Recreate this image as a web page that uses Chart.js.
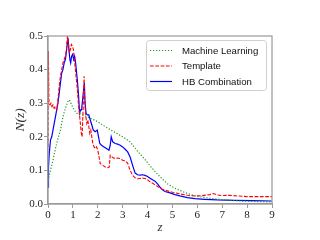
<!DOCTYPE html>
<html>
<head>
<meta charset="utf-8">
<script src="https://cdn.jsdelivr.net/npm/chart.js@4/dist/chart.umd.min.js"></script>
<style>
html,body{margin:0;padding:0;background:#fff;}
#wrap{width:320px;height:240px;}
</style>
</head>
<body>
<div id="wrap"><canvas id="c" width="320" height="240"></canvas></div>
<script>
// ---- data ----
const seriesLabels = ["Machine Learning", "Template", "HB Combination"];

const zML = [0,0.1,0.2,0.3,0.4,0.5,0.6,0.7,0.8,0.86,0.95,1.05,1.15,1.3,1.5,1.7,2.0,2.3,2.6,3.0,3.3,3.6,3.9,4.2,4.5,4.8,5.1,5.4,5.7,6.0,6.5,7.0,7.5,8.0,8.5,9.0];
const nML = [0.07,0.10,0.13,0.165,0.195,0.22,0.26,0.285,0.305,0.31,0.295,0.28,0.27,0.268,0.262,0.255,0.245,0.23,0.217,0.20,0.185,0.157,0.132,0.105,0.081,0.06,0.047,0.037,0.029,0.023,0.017,0.013,0.010,0.008,0.007,0.006];

const zTemp = [0,0.015,0.04,0.08,0.12,0.16,0.2,0.25,0.3,0.35,0.4,0.45,0.5,0.55,0.6,0.65,0.7,0.74,0.78,0.82,0.86,0.9,0.94,0.98,1.02,1.06,1.1,1.14,1.18,1.22,1.26,1.3,1.34,1.37,1.41,1.45,1.48,1.52,1.56,1.6,1.64,1.68,1.72,1.76,1.8,1.85,1.9,1.95,2.0,2.05,2.1,2.2,2.3,2.4,2.46,2.5,2.6,2.7,2.8,2.9,3.0,3.1,3.2,3.3,3.4,3.5,3.6,3.7,3.8,3.9,4.0,4.1,4.2,4.4,4.6,4.8,5.0,5.3,5.6,5.9,6.2,6.5,6.65,6.8,7.0,7.3,7.6,8.0,8.5,9.0];
const nTemp = [0.17,0.455,0.30,0.295,0.30,0.29,0.295,0.285,0.29,0.28,0.31,0.35,0.38,0.40,0.42,0.43,0.44,0.46,0.50,0.48,0.45,0.46,0.475,0.47,0.46,0.43,0.40,0.37,0.34,0.30,0.27,0.24,0.21,0.20,0.28,0.38,0.30,0.26,0.24,0.25,0.23,0.21,0.22,0.20,0.18,0.17,0.165,0.17,0.16,0.14,0.12,0.115,0.11,0.108,0.11,0.145,0.138,0.135,0.137,0.135,0.13,0.128,0.122,0.10,0.085,0.078,0.075,0.076,0.077,0.076,0.072,0.066,0.062,0.052,0.044,0.039,0.035,0.030,0.026,0.024,0.025,0.028,0.031,0.027,0.025,0.026,0.024,0.022,0.022,0.022];

const zHB = [0,0.02,0.05,0.1,0.15,0.2,0.25,0.3,0.35,0.4,0.45,0.5,0.55,0.6,0.65,0.7,0.75,0.8,0.84,0.88,0.91,0.95,0.99,1.03,1.07,1.11,1.15,1.19,1.23,1.27,1.31,1.35,1.39,1.43,1.46,1.49,1.53,1.58,1.64,1.7,1.76,1.82,1.9,1.98,2.03,2.08,2.15,2.25,2.35,2.45,2.5,2.54,2.6,2.7,2.8,2.9,3.0,3.1,3.2,3.3,3.4,3.5,3.6,3.7,3.8,3.9,4.0,4.1,4.2,4.3,4.4,4.5,4.6,4.7,4.9,5.1,5.3,5.6,5.9,6.3,6.8,7.5,8.2,9.0];
const nHB = [0.05,0.11,0.15,0.19,0.20,0.22,0.24,0.26,0.28,0.30,0.33,0.36,0.39,0.40,0.42,0.43,0.46,0.495,0.46,0.43,0.42,0.44,0.445,0.43,0.44,0.42,0.39,0.36,0.32,0.27,0.28,0.28,0.31,0.34,0.36,0.30,0.27,0.265,0.265,0.25,0.235,0.22,0.215,0.22,0.20,0.18,0.175,0.17,0.165,0.16,0.175,0.20,0.185,0.18,0.178,0.175,0.17,0.163,0.155,0.14,0.115,0.092,0.087,0.086,0.087,0.085,0.082,0.077,0.072,0.068,0.060,0.050,0.042,0.037,0.033,0.028,0.024,0.019,0.016,0.014,0.012,0.011,0.010,0.009];

const xTicks = [0,1,2,3,4,5,6,7,8,9];
const yTicks = [0.0,0.1,0.2,0.3,0.4,0.5];

// ---- build ----
function pts(zs, ns){ return zs.map((z,i)=>({x:z, y:ns[i]})); }

const styles = [
  {color:'#1f9a1f', dash:[1.2,1.8], width:1.2},
  {color:'#ff0000', dash:[3.7,1.6], width:1.1},
  {color:'#0000ff', dash:[], width:1.2}
];
const dataSets = [pts(zML,nML), pts(zTemp,nTemp), pts(zHB,nHB)];

const datasets = dataSets.map((d,i)=>({
  label: seriesLabels[i],
  data: d,
  showLine: true,
  borderColor: styles[i].color,
  borderDash: styles[i].dash,
  borderWidth: styles[i].width,
  pointRadius: 0,
  fill: false,
  tension: 0
}));

const spine = '#9a9a9a';
const tickFont = {family:'"Liberation Serif", serif', size:11};

const frame = {
  id:'frame',
  afterDatasetsDraw(chart){
    const {ctx, chartArea:a} = chart;
    ctx.save();
    ctx.strokeStyle = spine; ctx.lineWidth = 1.2;
    ctx.strokeRect(a.left, a.top, a.right-a.left, a.bottom-a.top);
    ctx.restore();
  }
};

const legendBox = {
  id:'legendBox',
  afterDraw(chart){
    const ctx = chart.ctx;
    const x0=146.5, y0=40.5, w=120, h=50, r=3;
    ctx.save();
    ctx.beginPath();
    ctx.roundRect(x0,y0,w,h,r);
    ctx.fillStyle='rgba(255,255,255,0.85)';
    ctx.fill();
    ctx.strokeStyle='#d0d0d0'; ctx.lineWidth=1;
    ctx.stroke();
    ctx.font = '9.6px "Liberation Sans", sans-serif';
    ctx.textBaseline='middle';
    chart.data.datasets.forEach((ds,i)=>{
      const y = 50.5 + i*15.5;
      ctx.beginPath();
      ctx.setLineDash(ds.borderDash);
      ctx.strokeStyle = ds.borderColor; ctx.lineWidth = ds.borderWidth;
      ctx.moveTo(150,y); ctx.lineTo(172,y); ctx.stroke();
      ctx.setLineDash([]);
      ctx.fillStyle='#111';
      ctx.fillText(ds.label, 182, y+0.5);
    });
    ctx.restore();
  }
};

new Chart(document.getElementById('c'), {
  type:'scatter',
  data:{datasets},
  plugins:[frame, legendBox],
  options:{
    responsive:false,
    animation:false,
    events:[],
    layout:{padding:{top:36,right:48,left:0,bottom:0}},
    plugins:{legend:{display:false}, tooltip:{enabled:false}},
    scales:{
      x:{
        type:'linear', min:0, max:9,
        afterBuildTicks(s){ s.ticks = xTicks.map(v=>({value:v})); },
        afterFit(s){ s.height = 36; },
        ticks:{font:tickFont, color:'#222', padding:1, maxRotation:0, callback:v=>String(v)},
        grid:{drawOnChartArea:false, drawTicks:true, tickLength:4, color:spine, lineWidth:1},
        border:{display:true, color:spine, width:1.2},
        title:{display:true, text:'z', color:'#333', font:{family:'"Liberation Serif", serif', size:13, style:'italic'}, padding:{top:0,bottom:5}}
      },
      y:{
        type:'linear', min:0, max:0.5,
        afterBuildTicks(s){ s.ticks = yTicks.map(v=>({value:v})); },
        afterFit(s){ s.width = 48; },
        ticks:{font:tickFont, color:'#222', padding:1, callback:v=>Number(v).toFixed(1)},
        grid:{drawOnChartArea:false, drawTicks:true, tickLength:4, color:spine, lineWidth:1},
        border:{display:true, color:spine, width:1.2},
        title:{display:true, text:'N(z)', color:'#333', font:{family:'"Liberation Serif", serif', size:13.5, style:'italic'}, padding:{top:12,bottom:0}}
      }
    }
  }
});
</script>
</body>
</html>
